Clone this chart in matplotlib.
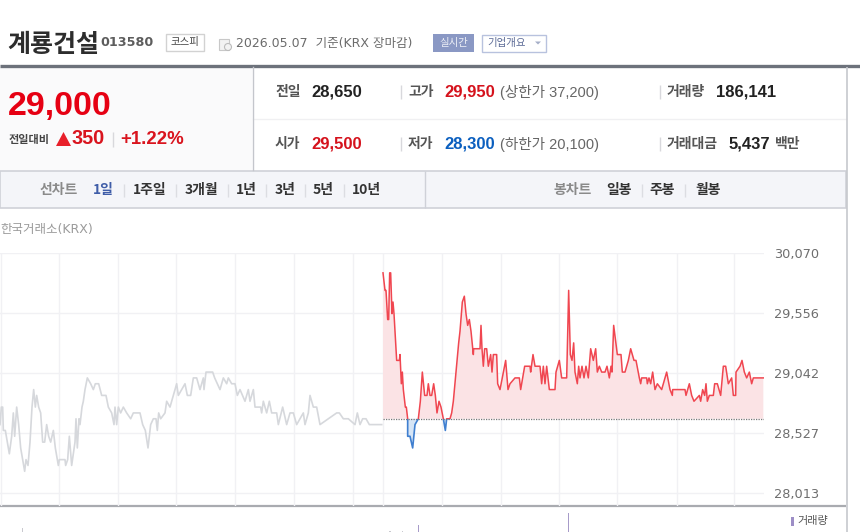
import numpy as np
import matplotlib
matplotlib.use("Agg")
import matplotlib.pyplot as plt
from matplotlib.patches import Rectangle, Polygon, Circle

plt.rcParams['font.family'] = ['Noto Sans CJK KR', 'DejaVu Sans']
NUM = ['Liberation Sans', 'Noto Sans CJK KR']
DJV = ['DejaVu Sans', 'Noto Sans CJK KR']

# --- data ---
prev_close = 28650
y_ticks = [30070, 29556, 29042, 28527, 28013]
y_tick_labels = ['30,070', '29,556', '29,042', '28,527', '28,013']
grid_t = [2, 176, 353, 529, 706, 881, 1058, 1150, 1325, 1502, 1678, 1851, 2030, 2203]

# (time position, price)
prev_points = [
    (0, 28600), (4, 28750), (8, 28750), (10, 28550), (16, 28550), (22, 28450), (28, 28350), (35, 28500), (40, 28700),
    (44, 28500), (50, 28750), (56, 28600), (62, 28400), (68, 28300), (74, 28200), (78, 28300), (84, 28250), (90, 28450),
    (96, 28750), (101, 28900), (106, 28750), (110, 28850), (116, 28750), (122, 28700), (128, 28450), (134, 28450),
    (140, 28600), (146, 28500), (152, 28450), (160, 28550), (166, 28400), (175, 28250), (178, 28300), (195, 28300),
    (197, 28250), (203, 28300), (208, 28500), (215, 28250), (225, 28450), (228, 28650), (232, 28400), (237, 28650),
    (240, 28600), (246, 28750), (250, 28800), (255, 28900), (262, 29000), (272, 28950), (280, 28900), (286, 28950),
    (296, 28950), (305, 28850), (318, 28850), (325, 28750), (335, 28700), (342, 28600), (345, 28750), (350, 28600),
    (355, 28750), (362, 28700), (370, 28750), (380, 28700), (392, 28650), (400, 28700), (420, 28700), (428, 28600),
    (436, 28550), (444, 28400), (452, 28600), (460, 28650), (468, 28650), (472, 28550), (476, 28700), (482, 28650),
    (495, 28700), (500, 28800), (510, 28750), (525, 28900), (530, 28950), (535, 28850), (545, 28900), (555, 28950),
    (562, 28850), (572, 28850), (580, 29000), (590, 29000), (600, 28900), (610, 29000), (612, 28900), (618, 29050),
    (638, 29050), (644, 29000), (660, 28900), (670, 29000), (680, 28950), (685, 29000), (695, 28950), (705, 28950),
    (712, 28850), (720, 28900), (735, 28800), (745, 28900), (750, 28800), (760, 28900), (765, 28750), (782, 28750),
    (785, 28700), (790, 28800), (800, 28700), (808, 28800), (815, 28700), (830, 28700), (835, 28600), (848, 28750),
    (860, 28600), (870, 28700), (880, 28700), (890, 28600), (900, 28650), (910, 28700), (915, 28600), (925, 28700),
    (930, 28850), (940, 28750), (950, 28750), (960, 28600), (1010, 28700), (1018, 28700), (1030, 28650), (1045, 28650),
    (1065, 28600), (1072, 28700), (1080, 28600), (1088, 28650), (1098, 28650), (1108, 28600), (1113, 28600), (1145, 28600),
]
today_points = [
    (1149, 29900), (1155, 29750), (1158, 29750), (1163, 29500), (1166, 29500), (1169, 29900), (1172, 29900), (1176, 29550),
    (1179, 29650), (1182, 29550), (1185, 29400), (1190, 29150), (1198, 29150), (1200, 29200), (1204, 28950), (1207, 29050),
    (1210, 28900), (1216, 28750), (1219, 28750), (1223, 28650), (1223, 28500), (1230, 28500), (1238, 28400), (1245, 28600),
    (1255, 28650), (1261, 28800), (1267, 29050), (1274, 28850), (1281, 28850), (1285, 28950), (1290, 28850), (1295, 28850),
    (1301, 28950), (1306, 28850), (1311, 28700), (1317, 28800), (1323, 28750), (1330, 28650), (1336, 28550), (1340, 28650),
    (1350, 28650), (1355, 28700), (1360, 28800), (1368, 29050), (1376, 29300), (1380, 29400), (1387, 29650), (1393, 29700),
    (1398, 29550), (1403, 29450), (1408, 29500), (1413, 29400), (1420, 29200), (1421, 29250), (1440, 29250), (1443, 29450),
    (1446, 29250), (1450, 29100), (1454, 29250), (1460, 29250), (1465, 29100), (1472, 29200), (1476, 29050), (1480, 29200),
    (1490, 29200), (1493, 28950), (1500, 28900), (1510, 29050), (1517, 29150), (1524, 28900), (1530, 28950), (1545, 29000),
    (1558, 29000), (1562, 28900), (1568, 29000), (1574, 29100), (1590, 29100), (1592, 29050), (1599, 29200), (1605, 29100),
    (1620, 29100), (1625, 28950), (1630, 29100), (1635, 28950), (1640, 29100), (1648, 28900), (1665, 28900), (1668, 29050),
    (1678, 29150), (1685, 29000), (1700, 29000), (1706, 29750), (1711, 29200), (1716, 29150), (1721, 29300), (1725, 29050),
    (1732, 28950), (1736, 29100), (1740, 29000), (1746, 29100), (1752, 29000), (1758, 29100), (1765, 29000), (1772, 29250),
    (1780, 29150), (1787, 29250), (1792, 29050), (1798, 29100), (1805, 29050), (1815, 29050), (1821, 29100), (1828, 29000),
    (1833, 29100), (1836, 29050), (1841, 29450), (1852, 29200), (1863, 29200), (1867, 29050), (1875, 29050), (1885, 29150),
    (1892, 29250), (1902, 29150), (1908, 29150), (1918, 29000), (1922, 28950), (1925, 29000), (1940, 29000), (1942, 28950),
    (1947, 29000), (1952, 28950), (1958, 29050), (1965, 28900), (1972, 28950), (1985, 28900), (2000, 29050), (2010, 28900),
    (2017, 28850), (2018, 28900), (2055, 28900), (2058, 28850), (2068, 28950), (2075, 28850), (2082, 28800), (2098, 28850),
    (2102, 28800), (2108, 28900), (2114, 28850), (2118, 28950), (2122, 28800), (2128, 28850), (2140, 28850), (2144, 28950),
    (2152, 28950), (2162, 28850), (2170, 29100), (2177, 29100), (2185, 28950), (2195, 29000), (2200, 28850), (2207, 28850),
    (2208, 29050), (2220, 29100), (2226, 29150), (2233, 29050), (2240, 29000), (2248, 29050), (2255, 28950), (2260, 29000),
    (2290, 29000),
]

vol_t = [67, 1170, 1208, 1255, 1706]
vol_v = [4, 1, 1, 7, 19]
vol_c = ['#c9c9cf', '#c9c9cf', '#c9c9cf', '#a79bc9', '#a79bc9']

title = '계룡건설'
code = '013580'
market = '코스피'
date_text = '2026.05.07  기준(KRX 장마감)'
line_tabs = [('1일', 103), ('1주일', 150), ('3개월', 201), ('1년', 246), ('3년', 285), ('5년', 323), ('10년', 366)]
candle_tabs = [('일봉', 619), ('주봉', 662), ('월봉', 708)]

fig = plt.figure(figsize=(8.6, 5.32), dpi=100, facecolor='white')

# page chrome in pixel coordinates
bg = fig.add_axes([0, 0, 1, 1])
bg.set_xlim(0, 860)
bg.set_ylim(532, 0)
bg.axis('off')

def box(x, y, w, h, fc='none', ec='none', lw=1.0, z=1):
    bg.add_patch(Rectangle((x, y), w, h, facecolor=fc, edgecolor=ec, linewidth=lw, zorder=z))

def vline(x, y0, y1, c='#d8d8dc', lw=1.0):
    bg.plot([x, x], [y0, y1], color=c, lw=lw, solid_capstyle='butt', zorder=3)

def txt(x, y, s, size=10, c='#333333', w='normal', ha='left', fam=None):
    kw = {'family': fam} if fam else {}
    bg.text(x, y, s, fontsize=size, color=c, fontweight=w, ha=ha, va='center', zorder=5, **kw)

box(0, 67, 252, 103, fc='#fafafb')
bg.plot([0, 860], [65.5, 65.5], color='#6d727b', lw=2.4, solid_capstyle='butt', zorder=3)
bg.plot([252.5, 252.5], [67, 170], color='#c4c6cc', lw=1, zorder=3)
bg.plot([253, 846], [119, 119], color='#f0f0f2', lw=1, zorder=2)
vline(846.5, 67, 532, c='#c6c8cd', lw=1.2)
box(0, 171, 846, 37, fc='#f4f5f9', ec='#cfd1d8', lw=1.2)
vline(424.5, 171, 208, c='#cfd1d8')

txt(7, 45, title, size=18, c='#2d2d2d', w='bold')
txt(100, 42, code, size=9.2, c='#5d5d5d', w='bold', fam=DJV)
box(165.5, 33.5, 38, 17, fc='white', ec='#d2d2d2')
txt(184.5, 42, market, size=7.5, c='#444444', ha='center')
box(218.5, 38.5, 10, 11, fc='#f2f2f2', ec='#c8c8c8', lw=0.8)
bg.add_patch(Circle((228, 47), 3.5, facecolor='#f2f2f2', edgecolor='#bcbcbc', linewidth=0.8, zorder=2))
txt(236, 44, date_text, size=9, c='#6b6b6b', fam=DJV)
box(433, 34, 41, 18, fc='#8a98c4')
txt(453.5, 43, '실시간', size=7.5, c='#eef0f7', ha='center')
box(481.5, 34.5, 64, 17, fc='white', ec='#b8c2de')
txt(487, 43, '기업개요', size=7.5, c='#5b6a96')
bg.add_patch(Polygon([[535, 41.5], [541, 41.5], [538, 44.5]], facecolor='#a5aec8', zorder=5))

txt(8, 107, '29,000', size=24.5, c='#e60013', w='bold', fam=NUM)
txt(9, 139, '전일대비', size=8, c='#444444', w='bold')
bg.add_patch(Polygon([[56, 146], [71, 146], [63.5, 132]], facecolor='#e8202a', zorder=5))
txt(72, 139, '350', size=14.3, c='#d9141e', w='bold', fam=NUM)
vline(112.5, 132, 147)
txt(120, 139, '+1.22%', size=13.4, c='#d9141e', w='bold', fam=NUM)

RED, BLUE, DARK, GRAY = '#d5121c', '#0b5fbf', '#222222', '#666666'
NS = 12
txt(275, 92, '전일', size=10, c='#555555', w='bold')
txt(311, 92, '28,650', size=NS, c=DARK, w='bold', fam=NUM)
txt(275, 144, '시가', size=10, c='#555555', w='bold')
txt(311, 144, '29,500', size=NS, c=RED, w='bold', fam=NUM)
vline(400.5, 85, 99)
vline(400.5, 137, 151)
txt(408, 92, '고가', size=10, c='#555555', w='bold')
txt(444, 92, '29,950', size=NS, c=RED, w='bold', fam=NUM)
txt(500, 92, '(상한가 37,200)', size=10.5, c=GRAY, fam=NUM)
txt(408, 144, '저가', size=10, c='#555555', w='bold')
txt(444, 144, '28,300', size=NS, c=BLUE, w='bold', fam=NUM)
txt(500, 144, '(하한가 20,100)', size=10.5, c=GRAY, fam=NUM)
vline(659.5, 85, 99)
vline(659.5, 137, 151)
txt(667, 92, '거래량', size=10, c='#555555', w='bold')
txt(716, 92, '186,141', size=NS, c=DARK, w='bold', fam=NUM)
txt(667, 144, '거래대금', size=10, c='#555555', w='bold')
txt(729, 144, '5,437', size=NS, c=DARK, w='bold', fam=NUM)
txt(775, 144, '백만', size=10, c='#555555', w='bold')

txt(40, 190, '선차트', size=10, c='#8a8a8a', w='bold')
for i, (label, cx) in enumerate(line_tabs):
    txt(cx, 190, label, size=10, c='#3f5da8' if i == 0 else '#333333', w='bold', ha='center')
for sep in [123, 175, 227, 265, 304, 343]:
    vline(sep + 0.5, 184, 197, c='#dcdde2')
txt(553, 190, '봉차트', size=10, c='#8a8a8a', w='bold')
for label, cx in candle_tabs:
    txt(cx, 190, label, size=10, c='#333333', w='bold', ha='center')
for sep in [641, 684]:
    vline(sep + 0.5, 184, 197, c='#dcdde2')
txt(0, 229, '한국거래소(KRX)', size=9, c='#9a9a9a', fam=DJV)
bg.plot([0, 846], [505.8, 505.8], color='#a9abb0', lw=1.6, solid_capstyle='butt', zorder=6)
bg.add_patch(Rectangle((791, 517), 3, 9, facecolor='#9d8ec6', zorder=5))
txt(797, 521, '거래량', size=8, c='#555555')

# price chart
ax = fig.add_axes([0, (532 - 505.5) / 532, 764 / 860, (505.5 - 253) / 532])
ax.patch.set_alpha(0)
ax.set_xlim(0, 2292)
ax.set_ylim(27907, 30070)
for s in ax.spines.values():
    s.set_visible(False)
ax.set_xticks(grid_t)
ax.set_yticks(y_ticks)
ax.set_yticklabels(y_tick_labels)
ax.yaxis.tick_right()
ax.tick_params(axis='x', length=0, labelbottom=False)
ax.tick_params(axis='y', length=0, pad=7.5, labelsize=9.3, labelcolor='#6e6e6e')
for lab in ax.get_yticklabels():
    lab.set_fontfamily(['DejaVu Sans'])
ax.grid(True, color='#f1f1f4', lw=1.0, zorder=0)
ax.set_axisbelow(True)

prev_t, prev_p = zip(*prev_points)
today_t, today_p = zip(*today_points)
t = np.array(today_t, float)
p = np.array(today_p, float)
ax.plot(prev_t, prev_p, color='#d6d8dc', lw=1.2, zorder=3)
ax.fill_between(t, p, prev_close, where=p >= prev_close, interpolate=True, color='#fbe3e5', lw=0, zorder=2)
ax.fill_between(t, p, prev_close, where=p <= prev_close, interpolate=True, color='#d6e5f6', lw=0, zorder=2)
up, = ax.plot(t, p, color='#f04650', lw=1.1, zorder=4)
down, = ax.plot(t, p, color='#3f7fd0', lw=1.2, zorder=4)
clip_up = Rectangle((0, prev_close), 2292, 30070 - prev_close, transform=ax.transData)
clip_dn = Rectangle((0, 27907), 2292, prev_close - 27907, transform=ax.transData)
up.set_clip_path(clip_up)
down.set_clip_path(clip_dn)
ax.plot([1149, 2292], [prev_close, prev_close], color='#777777', lw=0.9, ls=(0, (1, 1)), zorder=5)

# volume strip
vx = fig.add_axes([0, 0, 764 / 860, (532 - 507) / 532])
vx.patch.set_alpha(0)
vx.set_xlim(0, 2292)
vx.set_ylim(0, 25)
vx.axis('off')
vx.bar(vol_t, vol_v, width=3.6, color=vol_c)

fig.savefig('out.png', dpi=100)
